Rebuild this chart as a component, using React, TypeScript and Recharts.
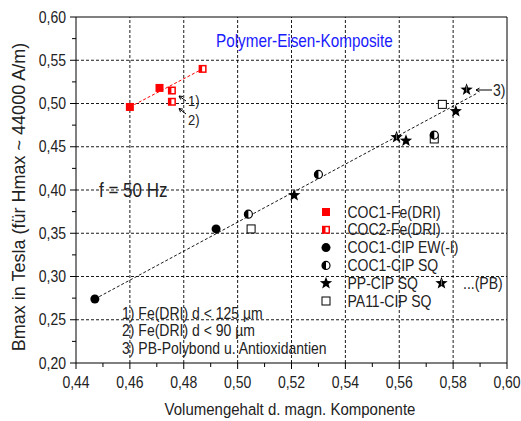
import React from "react";
import {
  ScatterChart,
  Scatter,
  XAxis,
  YAxis,
  ReferenceLine,
  Legend,
} from "recharts";

// values
const xTicks = [0.44, 0.45, 0.46, 0.47, 0.48, 0.49, 0.5, 0.51, 0.52, 0.53, 0.54, 0.55, 0.56, 0.57, 0.58, 0.59, 0.6];
const yTicks = [0.2, 0.225, 0.25, 0.275, 0.3, 0.325, 0.35, 0.375, 0.4, 0.425, 0.45, 0.475, 0.5, 0.525, 0.55, 0.575, 0.6];
const xGrid = [0.46, 0.48, 0.5, 0.52, 0.54, 0.56, 0.58];
const yGrid = [0.25, 0.3, 0.35, 0.4, 0.45, 0.5, 0.55];

const coc1FeX = [0.46, 0.471];
const coc1FeY = [0.496, 0.518];
const coc2FeX = [0.4756, 0.4756, 0.487];
const coc2FeY = [0.515, 0.502, 0.54];
const cipEwX = [0.447, 0.492];
const cipEwY = [0.274, 0.355];
const cipSqX = [0.504, 0.53, 0.573];
const cipSqY = [0.372, 0.418, 0.4635];
const ppSqX = [0.521, 0.5625, 0.581];
const ppSqY = [0.394, 0.457, 0.491];
const ppPbX = [0.559, 0.585];
const ppPbY = [0.461, 0.516];
const pa11X = [0.505, 0.573, 0.576];
const pa11Y = [0.355, 0.459, 0.499];

const redFitX = [0.46, 0.487];
const redFitY = [0.496, 0.54];
const blackFitX = [0.447, 0.589];
const blackFitY = [0.274, 0.512];

const legendNames = [
  "COC1-Fe(DRI)",
  "COC2-Fe(DRI)",
  "COC1-CIP EW(-I)",
  "COC1-CIP SQ",
  "PP-CIP SQ",
  "PA11-CIP SQ",
];
const legendKinds = ["sqFill", "sqHalf", "circFill", "circHalf", "star", "sqOpen"];

const footnotes = [
  "1) Fe(DRI) d < 125 µm",
  "2) Fe(DRI) d < 90 µm",
  "3) PB-Polybond u. Antioxidantien",
];

const FONT = "'Liberation Sans', Arial, sans-serif";
const STRETCH = 1.15; // the reference text is a little taller than it is wide

const pts = (xs: number[], ys: number[]) => xs.map((x, i) => ({ x, y: ys[i] }));

// text drawn a little taller than wide, baseline at (x, y)
function TText({ x, y, size, anchor, fill, children }: any) {
  return (
    <text
      transform={`translate(${x},${y}) scale(1,${STRETCH})`}
      fontSize={size}
      textAnchor={anchor || "start"}
      fontFamily={FONT}
      fill={fill || "#222"}
    >
      {children}
    </text>
  );
}

function starPoints(cx: number, cy: number, ro: number, ri: number) {
  const p: string[] = [];
  for (let i = 0; i < 10; i++) {
    const r = i % 2 === 0 ? ro : ri;
    const a = -Math.PI / 2 + (i * Math.PI) / 5;
    p.push(`${cx + r * Math.cos(a)},${cy + r * Math.sin(a)}`);
  }
  return p.join(" ");
}

function Marker({ kind, cx, cy }: { kind: string; cx: number; cy: number }) {
  if (cx == null || cy == null) return <g />;
  switch (kind) {
    case "sqFill":
      return <rect x={cx - 4} y={cy - 4} width={8} height={8} fill="#ff0000" />;
    case "sqHalf":
      return (
        <g>
          <rect x={cx - 4} y={cy - 4} width={8} height={8} fill="#ff0000" />
          <rect x={cx - 0.5} y={cy - 2.5} width={3} height={5} fill="#fff" />
        </g>
      );
    case "circFill":
      return <circle cx={cx} cy={cy} r={4.5} fill="#000" />;
    case "circHalf":
      return (
        <g>
          <circle cx={cx} cy={cy} r={4} fill="#fff" stroke="#000" strokeWidth={1.2} />
          <path d={`M${cx},${cy - 4} A4,4 0 0 0 ${cx},${cy + 4} Z`} fill="#000" />
        </g>
      );
    case "star":
      return <polygon points={starPoints(cx, cy, 6.5, 2.7)} fill="#000" />;
    case "starPB":
      return (
        <g>
          <polygon points={starPoints(cx, cy, 6.5, 2.7)} fill="#000" />
          <line x1={cx} y1={cy - 4} x2={cx} y2={cy + 2} stroke="#888" strokeWidth={0.8} />
        </g>
      );
    case "sqOpen":
      return <rect x={cx - 4} y={cy - 4} width={8} height={8} fill="#fff" stroke="#000" strokeWidth={1} />;
    default:
      return <g />;
  }
}

const shapeOf = (kind: string) => (props: any) => <Marker kind={kind} cx={props.cx} cy={props.cy} />;

function XTick(props: any) {
  const { x, y, payload } = props;
  const v = payload.value as number;
  const major = Math.round(v * 100) % 2 === 0;
  return (
    <g>
      <line x1={x} y1={y} x2={x} y2={y + (major ? 6 : 4)} stroke="#000" />
      {major && (
        <TText x={x} y={y + 25} size={14} anchor="middle">
          {v.toFixed(2).replace(".", ",")}
        </TText>
      )}
    </g>
  );
}

function YTick(props: any) {
  const { x, y, payload } = props;
  const v = payload.value as number;
  const major = Math.round(v * 1000) % 50 === 0;
  return (
    <g>
      <line x1={x} y1={y} x2={x - (major ? 6 : 4)} y2={y} stroke="#000" />
      {major && (
        <TText x={x - 10} y={y + 5.5} size={14} anchor="end">
          {v.toFixed(2).replace(".", ",")}
        </TText>
      )}
    </g>
  );
}

function LegendBox() {
  return (
    <svg width={200} height={115} style={{ display: "block" }}>
      {legendNames.map((name, i) => {
        const cy = 12 + i * 17.8;
        return (
          <g key={name}>
            <Marker kind={legendKinds[i]} cx={8} cy={cy} />
            <TText x={29.5} y={cy + 5.5} size={14}>
              {name}
            </TText>
          </g>
        );
      })}
      <Marker kind="starPB" cx={123.5} cy={12 + 4 * 17.8} />
      <TText x={145} y={12 + 4 * 17.8 + 5.5} size={14}>
        ...(PB)
      </TText>
    </svg>
  );
}

function Arrow({ x1, y1, x2, y2 }: { x1: number; y1: number; x2: number; y2: number }) {
  const a = Math.atan2(y2 - y1, x2 - x1);
  const h = 4;
  const p1 = [x2 - h * Math.cos(a - 0.5), y2 - h * Math.sin(a - 0.5)];
  const p2 = [x2 - h * Math.cos(a + 0.5), y2 - h * Math.sin(a + 0.5)];
  return (
    <g stroke="#000" strokeWidth={1} fill="none">
      <line x1={x1} y1={y1} x2={x2} y2={y2} />
      <polyline points={`${p1[0]},${p1[1]} ${x2},${y2} ${p2[0]},${p2[1]}`} />
    </g>
  );
}

export default function App() {
  return (
    <div style={{ position: "relative", width: 521, height: 421, background: "#fff" }}>
      <style>{"body{margin:0}"}</style>
      <ScatterChart width={521} height={421} margin={{ top: 17, right: 14, left: 0, bottom: 0 }}>
        <XAxis
          type="number"
          dataKey="x"
          domain={[0.44, 0.6]}
          ticks={xTicks}
          interval={0}
          tickSize={0}
          tickMargin={0}
          tickLine={false}
          tick={(p: any) => <XTick {...p} />}
          axisLine={{ stroke: "#000" }}
          height={58}
          allowDataOverflow
        />
        <YAxis
          type="number"
          dataKey="y"
          domain={[0.2, 0.6]}
          ticks={yTicks}
          interval={0}
          tickSize={0}
          tickMargin={0}
          tickLine={false}
          tick={(p: any) => <YTick {...p} />}
          axisLine={{ stroke: "#000" }}
          width={76}
          allowDataOverflow
        />
        {xGrid.map((v) => (
          <ReferenceLine key={"gx" + v} x={v} stroke="#000" strokeDasharray="3 2" strokeWidth={0.9} />
        ))}
        {yGrid.map((v) => (
          <ReferenceLine key={"gy" + v} y={v} stroke="#000" strokeDasharray="3 2" strokeWidth={0.9} />
        ))}
        <ReferenceLine x={0.6} stroke="#000" />
        <ReferenceLine y={0.6} stroke="#000" />
        <Legend
          layout="vertical"
          align="center"
          verticalAlign="middle"
          content={() => <LegendBox />}
          wrapperStyle={{ left: 318, top: 200, width: 200, height: 115 }}
        />
        <Scatter
          data={pts(redFitX, redFitY)}
          line={{ stroke: "#ff0000", strokeDasharray: "3 2", strokeWidth: 1 }}
          shape={() => <g />}
          isAnimationActive={false}
          legendType="none"
        />
        <Scatter
          data={pts(blackFitX, blackFitY)}
          line={{ stroke: "#000", strokeDasharray: "3 2", strokeWidth: 0.9 }}
          shape={() => <g />}
          isAnimationActive={false}
          legendType="none"
        />
        <Scatter data={pts(coc1FeX, coc1FeY)} shape={shapeOf("sqFill")} isAnimationActive={false} />
        <Scatter data={pts(coc2FeX, coc2FeY)} shape={shapeOf("sqHalf")} isAnimationActive={false} />
        <Scatter data={pts(cipEwX, cipEwY)} shape={shapeOf("circFill")} isAnimationActive={false} />
        <Scatter data={pts(pa11X, pa11Y)} shape={shapeOf("sqOpen")} isAnimationActive={false} />
        <Scatter data={pts(cipSqX, cipSqY)} shape={shapeOf("circHalf")} isAnimationActive={false} />
        <Scatter data={pts(ppSqX, ppSqY)} shape={shapeOf("star")} isAnimationActive={false} />
        <Scatter data={pts(ppPbX, ppPbY)} shape={shapeOf("starPB")} isAnimationActive={false} />
      </ScatterChart>
      <svg
        width={521}
        height={421}
        style={{ position: "absolute", left: 0, top: 0, pointerEvents: "none" }}
      >
        <TText x={216} y={47} size={15.3} fill="#1a1aff">
          Polymer-Eisen-Komposite
        </TText>
        <TText x={99} y={197} size={17}>
          f = 50 Hz
        </TText>
        {footnotes.map((t, i) => (
          <TText key={t} x={122} y={318.5 + i * 17.5} size={14}>
            {t}
          </TText>
        ))}
        <Arrow x1={186} y1={101} x2={179} y2={96} />
        <Arrow x1={186} y1={114} x2={179} y2={108.5} />
        <Arrow x1={492} y1={90} x2={476} y2={90} />
        <TText x={188} y={105.5} size={13}>1)</TText>
        <TText x={188} y={124.5} size={13}>2)</TText>
        <TText x={493} y={95.5} size={14}>3)</TText>
        <TText x={290} y={415} size={15} anchor="middle">
          Volumengehalt d. magn. Komponente
        </TText>
        <text
          transform="translate(25,197) rotate(-90)"
          fontSize={18}
          textAnchor="middle"
          fontFamily={FONT}
          fill="#222"
        >
          Bmax in Tesla (für Hmax ~ 44000 A/m)
        </text>
      </svg>
    </div>
  );
}
